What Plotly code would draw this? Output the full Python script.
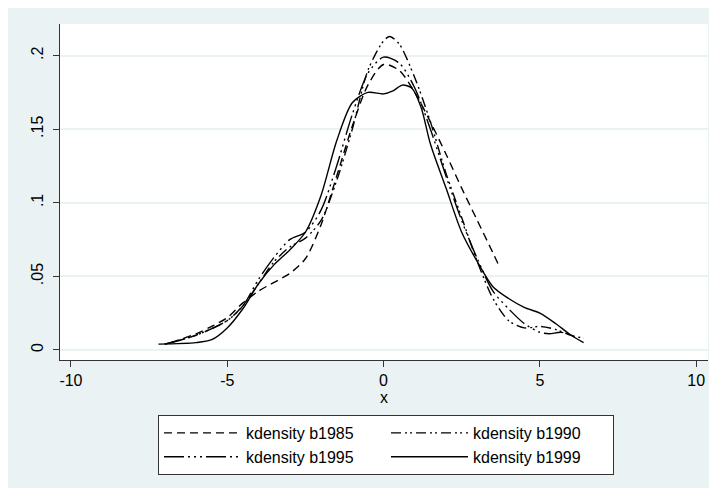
import plotly.graph_objects as go

x1985 = [-6.8, -6.0, -5.5, -5.0, -4.5, -4.0, -3.5, -3.0, -2.5, -2.0, -1.5, -1.0, -0.5, 0.0, 0.5, 1.0, 1.5, 2.0, 2.5, 3.0, 3.5, 3.7]
y1985 = [0.005, 0.011, 0.016, 0.022, 0.032, 0.040, 0.046, 0.052, 0.062, 0.085, 0.118, 0.152, 0.180, 0.194, 0.190, 0.175, 0.155, 0.133, 0.110, 0.088, 0.066, 0.057]

x1990 = [-7.0, -6.0, -5.0, -4.5, -4.0, -3.5, -3.0, -2.5, -2.0, -1.5, -1.0, -0.5, 0.0, 0.2, 0.5, 1.0, 1.5, 2.0, 2.5, 3.0, 3.5, 4.0, 4.5, 5.0, 5.5, 6.0, 6.4]
y1990 = [0.004, 0.010, 0.020, 0.030, 0.045, 0.060, 0.070, 0.076, 0.088, 0.115, 0.150, 0.190, 0.210, 0.213, 0.208, 0.185, 0.155, 0.120, 0.090, 0.060, 0.035, 0.020, 0.015, 0.016, 0.014, 0.010, 0.008]

x1995 = [-7.0, -6.0, -5.0, -4.5, -4.0, -3.5, -3.0, -2.5, -2.0, -1.5, -1.0, -0.5, 0.0, 0.5, 1.0, 1.5, 2.0, 2.5, 3.0, 3.5, 4.0, 4.5, 5.0, 5.3, 5.7, 6.2]
y1995 = [0.004, 0.010, 0.020, 0.030, 0.048, 0.063, 0.075, 0.080, 0.095, 0.125, 0.160, 0.188, 0.199, 0.195, 0.178, 0.150, 0.118, 0.088, 0.062, 0.040, 0.028, 0.018, 0.012, 0.011, 0.012, 0.008]

x1999 = [-7.2, -6.0, -5.5, -5.0, -4.5, -4.0, -3.5, -3.0, -2.5, -2.0, -1.5, -1.0, -0.5, 0.0, 0.3, 0.6, 0.9, 1.2, 1.5, 2.0, 2.5, 3.0, 3.5, 4.0, 4.5, 5.0, 5.5, 6.0, 6.4]
y1999 = [0.004, 0.005, 0.007, 0.015, 0.028, 0.045, 0.058, 0.068, 0.080, 0.105, 0.142, 0.168, 0.175, 0.174, 0.176, 0.180, 0.178, 0.165, 0.140, 0.110, 0.080, 0.060, 0.043, 0.035, 0.029, 0.025, 0.018, 0.010, 0.005]

names = ["kdensity b1985", "kdensity b1990", "kdensity b1995", "kdensity b1999"]
xtickvals = [-10, -5, 0, 5, 10]
xticktext = ["-10", "-5", "0", "5", "10"]
ytickvals = [0, 0.05, 0.1, 0.15, 0.2]
yticktext = ["0", ".05", ".1", ".15", ".2"]

series = [(x1985, y1985), (x1990, y1990), (x1995, y1995), (x1999, y1999)]
dashes = ["8px,5px", "10px,4px,2px,3px,2px,4px", "20px,4px,2px,4px,2px,4px,2px,4px", "solid"]

fig = go.Figure()
for (xs, ys), nm, d in zip(series, names, dashes):
    fig.add_trace(go.Scatter(x=xs, y=ys, mode="lines", name=nm,
                             line=dict(color="black", width=1.4, dash=d, shape="spline", smoothing=0.8)))

bg = "#EAF2F3"
fig.update_layout(
    width=717, height=488,
    margin=dict(l=52, r=17, t=16, b=136),
    paper_bgcolor=bg, plot_bgcolor="white",
    font=dict(family="Liberation Sans, Arial, sans-serif", size=16, color="black"),
    showlegend=True,
    legend=dict(orientation="h", x=(150 - 52) / 648, xanchor="left", y=-(407 - 352) / 336, yanchor="top",
                bgcolor="white", bordercolor="#333333", borderwidth=1,
                itemwidth=77, entrywidth=135, entrywidthmode="pixels",
                font=dict(size=16), tracegroupgap=0, traceorder="normal"),
    xaxis=dict(range=[-10.35, 10.38], tickmode="array", tickvals=xtickvals, ticktext=xticktext,
               showgrid=False, zeroline=False, showline=True, linecolor="#333333", linewidth=1,
               ticks="outside", ticklen=6, tickcolor="#333333",
               title=dict(text="x", standoff=0, font=dict(size=16))),
    yaxis=dict(range=[-0.0068, 0.2215], tickmode="array", tickvals=ytickvals, ticktext=yticktext,
               showgrid=True, gridcolor=bg, gridwidth=1.5, zeroline=False, showline=True,
               linecolor="#333333", linewidth=1, ticks="outside", ticklen=6, tickcolor="#333333",
               tickangle=-90, ticklabelstandoff=4),
)
fig.write_html("out.html")
